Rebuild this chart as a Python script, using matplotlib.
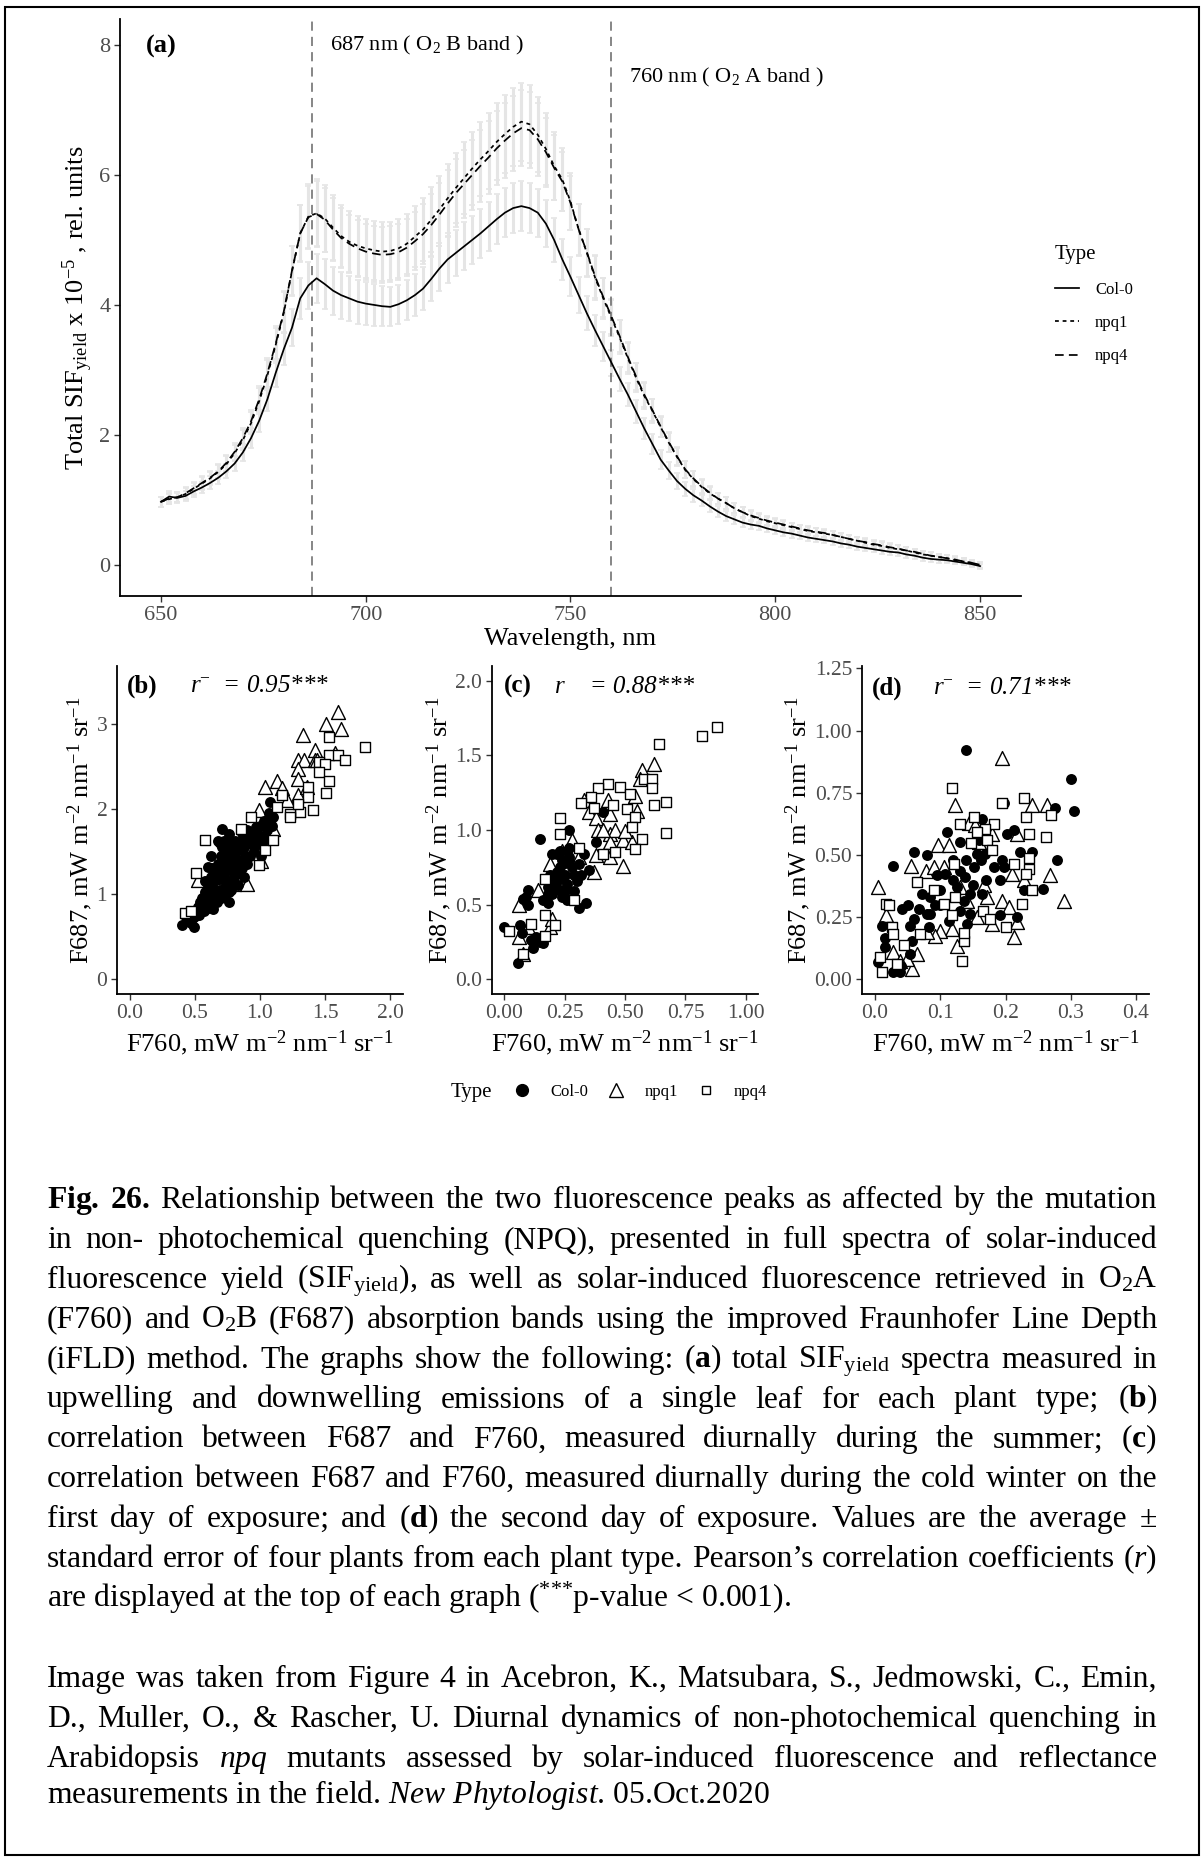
import numpy as np
import matplotlib
matplotlib.use("Agg")
import matplotlib.pyplot as plt
from matplotlib.lines import Line2D
from matplotlib.patches import Rectangle
from matplotlib.ticker import FormatStrFormatter

plt.rcParams['font.family'] = ['Liberation Serif', 'DejaVu Serif']
plt.rcParams['mathtext.fontset'] = 'custom'
plt.rcParams['mathtext.rm'] = 'Liberation Serif'
plt.rcParams['mathtext.it'] = 'Liberation Serif:italic'
plt.rcParams['mathtext.bf'] = 'Liberation Serif:bold'

# ---- (a) SIF yield spectra, 650-850 nm every 2 nm ----
wavelength = np.arange(650, 852, 2)

sif_col0 = [0.97, 1.05, 1.03, 1.06, 1.13, 1.19, 1.26, 1.34, 1.44, 1.56,
            1.73, 1.95, 2.22, 2.55, 2.95, 3.32, 3.65, 4.10, 4.30, 4.41,
            4.32, 4.22, 4.15, 4.10, 4.05, 4.02, 4.00, 3.98, 3.97, 4.01,
            4.07, 4.15, 4.25, 4.40, 4.56, 4.70, 4.80, 4.90, 5.00, 5.10,
            5.21, 5.32, 5.42, 5.49, 5.52, 5.49, 5.42, 5.25, 5.00, 4.70,
            4.43, 4.15, 3.87, 3.61, 3.36, 3.11, 2.86, 2.62, 2.36, 2.10,
            1.86, 1.62, 1.45, 1.29, 1.17, 1.07, 0.99, 0.90, 0.82, 0.75,
            0.70, 0.65, 0.62, 0.60, 0.56, 0.53, 0.50, 0.48, 0.45, 0.42,
            0.40, 0.38, 0.36, 0.33, 0.31, 0.28, 0.26, 0.24, 0.22, 0.20,
            0.19, 0.16, 0.14, 0.11, 0.09, 0.08, 0.07, 0.05, 0.03, 0.01, -0.02]

sif_npq1 = [0.97, 1.01, 1.04, 1.09, 1.17, 1.25, 1.33, 1.43, 1.55, 1.72,
            1.92, 2.18, 2.52, 2.92, 3.38, 3.88, 4.52, 5.10, 5.36, 5.41,
            5.33, 5.19, 5.06, 4.97, 4.91, 4.87, 4.84, 4.82, 4.83, 4.87,
            4.94, 5.05, 5.16, 5.31, 5.47, 5.64, 5.80, 5.95, 6.10, 6.24,
            6.37, 6.51, 6.63, 6.74, 6.82, 6.78, 6.62, 6.40, 6.14, 5.93,
            5.59, 5.16, 4.80, 4.42, 4.10, 3.80, 3.50, 3.18, 2.88, 2.60,
            2.37, 2.12, 1.88, 1.66, 1.46, 1.32, 1.20, 1.10, 1.02, 0.95,
            0.87, 0.81, 0.75, 0.71, 0.67, 0.64, 0.61, 0.58, 0.55, 0.52,
            0.50, 0.48, 0.46, 0.43, 0.40, 0.37, 0.34, 0.31, 0.29, 0.26,
            0.24, 0.22, 0.19, 0.16, 0.14, 0.12, 0.10, 0.07, 0.05, 0.03, 0.00]

sif_npq4 = [0.97, 1.02, 1.04, 1.10, 1.18, 1.26, 1.34, 1.44, 1.57, 1.74,
            1.95, 2.21, 2.55, 2.95, 3.40, 3.90, 4.53, 5.10, 5.35, 5.40,
            5.31, 5.16, 5.03, 4.94, 4.87, 4.82, 4.79, 4.77, 4.78, 4.81,
            4.88, 4.98, 5.09, 5.23, 5.39, 5.56, 5.72, 5.86, 6.00, 6.14,
            6.27, 6.41, 6.53, 6.64, 6.72, 6.69, 6.55, 6.35, 6.11, 5.90,
            5.57, 5.16, 4.81, 4.44, 4.12, 3.82, 3.52, 3.20, 2.90, 2.62,
            2.38, 2.13, 1.89, 1.67, 1.47, 1.33, 1.21, 1.11, 1.02, 0.95,
            0.87, 0.81, 0.76, 0.72, 0.68, 0.65, 0.62, 0.59, 0.56, 0.53,
            0.51, 0.49, 0.46, 0.43, 0.40, 0.37, 0.35, 0.32, 0.30, 0.27,
            0.25, 0.22, 0.20, 0.17, 0.14, 0.12, 0.10, 0.08, 0.05, 0.03, 0.00]

se_col0 = [0.08, 0.08, 0.08, 0.08, 0.09, 0.09, 0.10, 0.10, 0.11, 0.12,
           0.13, 0.15, 0.17, 0.19, 0.22, 0.25, 0.28, 0.32, 0.36, 0.38,
           0.38, 0.37, 0.36, 0.35, 0.34, 0.33, 0.32, 0.31, 0.30, 0.30,
           0.31, 0.32, 0.33, 0.34, 0.35, 0.36, 0.36, 0.37, 0.37, 0.38,
           0.38, 0.38, 0.38, 0.38, 0.38, 0.38, 0.37, 0.36, 0.34, 0.32,
           0.30, 0.28, 0.26, 0.24, 0.22, 0.20, 0.19, 0.18, 0.17, 0.16,
           0.15, 0.14, 0.13, 0.12, 0.11, 0.10, 0.09, 0.09, 0.08, 0.08,
           0.07, 0.07, 0.07, 0.06, 0.06, 0.06, 0.06, 0.06, 0.05, 0.05,
           0.05, 0.05, 0.05, 0.05, 0.05, 0.05, 0.05, 0.05, 0.05, 0.05,
           0.05, 0.05, 0.05, 0.05, 0.05, 0.05, 0.04, 0.04, 0.04, 0.04, 0.04]

se_npq1 = [0.08, 0.08, 0.08, 0.09, 0.09, 0.10, 0.10, 0.11, 0.12, 0.13,
           0.15, 0.17, 0.20, 0.23, 0.27, 0.32, 0.38, 0.44, 0.50, 0.52,
           0.51, 0.50, 0.48, 0.47, 0.46, 0.45, 0.45, 0.45, 0.45, 0.45,
           0.46, 0.47, 0.48, 0.50, 0.51, 0.53, 0.54, 0.55, 0.56, 0.57,
           0.58, 0.59, 0.60, 0.60, 0.60, 0.60, 0.58, 0.55, 0.52, 0.48,
           0.44, 0.40, 0.37, 0.34, 0.31, 0.28, 0.26, 0.24, 0.22, 0.20,
           0.18, 0.16, 0.15, 0.14, 0.13, 0.12, 0.11, 0.10, 0.09, 0.09,
           0.08, 0.08, 0.08, 0.07, 0.07, 0.07, 0.07, 0.06, 0.06, 0.06,
           0.06, 0.06, 0.06, 0.06, 0.06, 0.06, 0.06, 0.06, 0.06, 0.06,
           0.06, 0.06, 0.05, 0.05, 0.05, 0.05, 0.05, 0.05, 0.05, 0.05, 0.05]

se_npq4 = [0.08, 0.08, 0.08, 0.09, 0.09, 0.10, 0.10, 0.11, 0.12, 0.13,
           0.15, 0.17, 0.20, 0.23, 0.27, 0.31, 0.37, 0.43, 0.48, 0.50,
           0.49, 0.48, 0.46, 0.45, 0.44, 0.43, 0.43, 0.43, 0.43, 0.43,
           0.44, 0.45, 0.46, 0.48, 0.49, 0.51, 0.52, 0.53, 0.54, 0.55,
           0.56, 0.57, 0.58, 0.58, 0.58, 0.58, 0.56, 0.53, 0.50, 0.46,
           0.42, 0.39, 0.36, 0.33, 0.30, 0.27, 0.25, 0.23, 0.21, 0.19,
           0.17, 0.16, 0.15, 0.14, 0.13, 0.12, 0.11, 0.10, 0.09, 0.09,
           0.08, 0.08, 0.08, 0.07, 0.07, 0.07, 0.07, 0.06, 0.06, 0.06,
           0.06, 0.06, 0.06, 0.06, 0.06, 0.06, 0.06, 0.06, 0.06, 0.06,
           0.06, 0.06, 0.05, 0.05, 0.05, 0.05, 0.05, 0.05, 0.05, 0.05, 0.05]

# ---- (b) summer: F760 vs F687 ----
b_col0_x = [0.40, 0.49, 0.43, 0.49, 0.52, 0.55, 0.60, 0.64, 0.67, 0.76, 0.55, 0.58, 0.60, 0.62,
            0.60, 0.65, 0.66, 0.68, 0.70, 0.71, 0.72, 0.71, 0.75, 0.74, 0.76, 0.78, 0.80, 0.82,
            0.80, 0.84, 0.88, 0.85, 0.90, 0.92, 0.94, 0.96, 0.98, 1.00, 1.02, 1.05, 1.06, 1.08,
            1.10, 1.01, 0.88, 0.70, 0.65, 0.72, 0.78, 0.83, 0.86, 0.90, 0.62, 0.58, 0.68,
            0.45, 0.47, 0.50, 0.53, 0.54, 0.57, 0.59, 0.61, 0.63, 0.64, 0.63, 0.66, 0.67, 0.69,
            0.70, 0.69, 0.72, 0.73, 0.74, 0.76, 0.77, 0.78, 0.79, 0.81, 0.82, 0.83, 0.85, 0.86,
            0.87, 0.89, 0.91, 0.93, 0.95, 0.97, 0.99, 1.03, 1.04, 1.07, 1.09, 0.58, 0.61, 0.74,
            0.76, 0.70]
b_col0_y = [0.64, 0.61, 0.73, 0.73, 0.85, 0.84, 0.84, 0.82, 0.90, 0.90, 0.95, 1.02, 1.10, 1.20,
            1.31, 1.25, 1.16, 1.35, 1.45, 1.55, 1.62, 1.76, 1.63, 1.40, 1.28, 1.15, 1.20, 1.30,
            1.45, 1.52, 1.55, 1.40, 1.35, 1.45, 1.58, 1.65, 1.71, 1.80, 1.62, 1.75, 1.85, 2.08,
            1.90, 1.45, 1.20, 1.05, 0.95, 1.00, 1.05, 1.10, 1.72, 1.75, 1.45, 0.92, 1.62,
            0.70, 0.66, 0.78, 0.75, 0.90, 0.80, 0.97, 0.88, 1.05, 1.15, 1.30, 1.05, 1.25, 1.18,
            1.30, 1.60, 1.20, 1.35, 1.50, 1.70, 1.40, 1.55, 1.30, 1.62, 1.40, 1.25, 1.55, 1.30,
            1.65, 1.45, 1.60, 1.70, 1.50, 1.78, 1.58, 1.85, 1.68, 1.95, 1.80, 1.15, 1.00, 1.10,
            1.02, 0.95]
b_npq1_x = [1.60, 1.51, 1.62, 1.33, 1.42, 1.58, 1.29, 1.34, 1.42, 1.29, 1.29, 1.04, 1.13, 1.17,
            1.29, 0.99, 1.06, 1.10, 1.01, 0.88, 0.90, 0.80, 0.67, 0.52, 1.21, 1.36, 1.44]
b_npq1_y = [3.14, 3.00, 2.93, 2.87, 2.69, 2.65, 2.57, 2.57, 2.57, 2.47, 2.35, 2.25, 2.33, 2.24,
            2.16, 1.98, 1.92, 1.76, 1.39, 1.14, 1.12, 1.12, 1.08, 1.16, 2.10, 2.25, 2.57]
b_npq4_x = [1.81, 1.53, 1.53, 1.60, 1.65, 1.45, 1.50, 1.45, 1.53, 1.51, 1.41, 1.31, 1.23, 1.23,
            1.17, 1.13, 1.37, 1.37, 0.93, 0.85, 0.58, 0.99, 0.51, 0.42, 0.47, 1.04, 1.10, 1.29]
b_npq4_y = [2.72, 2.84, 2.63, 2.63, 2.57, 2.55, 2.53, 2.43, 2.33, 2.18, 1.98, 1.96, 1.94, 1.90,
            2.16, 2.02, 2.25, 2.14, 1.90, 1.76, 1.63, 1.34, 1.25, 0.78, 0.80, 1.51, 1.63, 2.06]

# ---- (c) winter, day 1 ----
c_col0_x = [0.00, 0.056, 0.066, 0.073, 0.08, 0.10, 0.10, 0.12, 0.15, 0.11, 0.15, 0.18, 0.18,
            0.20, 0.22, 0.23, 0.22, 0.25, 0.26, 0.27, 0.29, 0.31, 0.31, 0.34, 0.35, 0.33, 0.38,
            0.41, 0.24, 0.27, 0.29, 0.20, 0.24, 0.19, 0.27, 0.23,
            0.21, 0.22, 0.24, 0.25, 0.26, 0.28, 0.23, 0.20, 0.27, 0.30, 0.32, 0.18, 0.16, 0.26,
            0.25, 0.09, 0.13, 0.16]
c_col0_y = [0.35, 0.105, 0.36, 0.31, 0.54, 0.50, 0.60, 0.21, 0.25, 0.26, 0.94, 0.57, 0.51,
            0.84, 0.84, 0.75, 0.66, 0.59, 0.53, 1.00, 0.70, 0.77, 0.48, 0.51, 0.73, 0.84, 0.92,
            1.12, 0.68, 0.79, 0.59, 0.57, 0.55, 0.70, 0.88, 0.86,
            0.62, 0.72, 0.80, 0.70, 0.64, 0.75, 0.60, 0.66, 0.82, 0.66, 0.70, 0.62, 0.53, 0.86,
            0.78, 0.55, 0.28, 0.24]
c_npq1_x = [0.063, 0.063, 0.08, 0.10, 0.14, 0.19, 0.20, 0.19, 0.28, 0.24, 0.33, 0.35, 0.38,
            0.43, 0.44, 0.39, 0.44, 0.44, 0.46, 0.38, 0.44, 0.49, 0.49, 0.53, 0.55, 0.57, 0.62,
            0.56, 0.54, 0.37, 0.31, 0.50, 0.41]
c_npq1_y = [0.50, 0.28, 0.17, 0.35, 0.60, 0.35, 0.40, 0.77, 0.93, 0.86, 1.20, 1.12, 1.08,
            1.20, 1.11, 1.00, 0.97, 0.92, 1.00, 0.83, 0.82, 0.76, 0.93, 0.92, 1.13, 1.40, 1.44,
            1.34, 1.23, 0.72, 0.82, 0.99, 1.00]
c_npq4_x = [0.88, 0.82, 0.64, 0.58, 0.61, 0.61, 0.62, 0.67, 0.67, 0.43, 0.39, 0.48, 0.52,
            0.36, 0.32, 0.51, 0.54, 0.53, 0.57, 0.54, 0.46, 0.41, 0.23, 0.23, 0.31, 0.17, 0.29,
            0.17, 0.21, 0.08, 0.02, 0.11, 0.17, 0.37, 0.45]
c_npq4_y = [1.69, 1.63, 1.58, 1.34, 1.34, 1.28, 1.17, 1.19, 0.98, 1.31, 1.28, 1.29, 1.24,
            1.22, 1.18, 1.14, 1.09, 1.02, 0.94, 0.87, 0.85, 0.84, 1.08, 0.97, 0.88, 0.67, 0.53,
            0.43, 0.36, 0.17, 0.32, 0.37, 0.29, 1.15, 1.17]

# ---- (d) winter, day 2 ----
d_col0_x = [0.140, 0.300, 0.305, 0.276, 0.198, 0.110, 0.164, 0.202, 0.213, 0.028, 0.060, 0.079,
            0.131, 0.222, 0.241, 0.279, 0.195, 0.258, 0.228, 0.192, 0.218, 0.191, 0.004, 0.010,
            0.015, 0.015, 0.028, 0.038, 0.040, 0.054, 0.056, 0.053, 0.041, 0.051, 0.067, 0.079,
            0.082, 0.084, 0.100, 0.108, 0.113, 0.126, 0.131, 0.136, 0.138, 0.141, 0.146, 0.151,
            0.156, 0.162, 0.164, 0.169, 0.182, 0.197, 0.120, 0.092, 0.072, 0.131, 0.146, 0.095,
            0.120, 0.150, 0.170, 0.140, 0.100, 0.060, 0.085, 0.160]
d_col0_y = [0.920, 0.805, 0.676, 0.690, 0.710, 0.590, 0.646, 0.585, 0.600, 0.454, 0.510, 0.500,
            0.550, 0.510, 0.510, 0.480, 0.480, 0.363, 0.360, 0.400, 0.250, 0.256, 0.070, 0.215,
            0.165, 0.130, 0.027, 0.027, 0.054, 0.100, 0.155, 0.215, 0.283, 0.300, 0.283, 0.262,
            0.210, 0.330, 0.357, 0.424, 0.235, 0.370, 0.276, 0.316, 0.410, 0.222, 0.343, 0.450,
            0.505, 0.478, 0.343, 0.505, 0.450, 0.450, 0.478, 0.300, 0.343, 0.437, 0.262, 0.417,
            0.400, 0.380, 0.400, 0.480, 0.300, 0.240, 0.260, 0.560]
d_npq1_x = [0.194, 0.123, 0.241, 0.263, 0.004, 0.055, 0.078, 0.091, 0.097, 0.114, 0.144, 0.154,
            0.159, 0.179, 0.218, 0.268, 0.290, 0.210, 0.228, 0.195, 0.205, 0.218, 0.213, 0.179,
            0.156, 0.126, 0.118, 0.100, 0.092, 0.017, 0.028, 0.056, 0.064, 0.049, 0.105, 0.131,
            0.167, 0.172, 0.141, 0.079, 0.038]
d_npq1_y = [0.890, 0.700, 0.700, 0.700, 0.370, 0.454, 0.435, 0.450, 0.540, 0.540, 0.630, 0.620,
            0.550, 0.585, 0.585, 0.420, 0.316, 0.424, 0.397, 0.316, 0.290, 0.229, 0.168, 0.222,
            0.250, 0.135, 0.200, 0.195, 0.175, 0.256, 0.108, 0.040, 0.100, 0.080, 0.450, 0.370,
            0.377, 0.330, 0.316, 0.188, 0.074]
d_npq4_x = [0.118, 0.228, 0.195, 0.231, 0.269, 0.151, 0.131, 0.183, 0.169, 0.156, 0.236, 0.262,
            0.147, 0.172, 0.121, 0.179, 0.213, 0.236, 0.236, 0.231, 0.241, 0.226, 0.064, 0.017,
            0.022, 0.026, 0.028, 0.044, 0.007, 0.011, 0.033, 0.134, 0.137, 0.136, 0.166, 0.177,
            0.200, 0.069, 0.118, 0.105, 0.090, 0.123]
d_npq4_y = [0.770, 0.727, 0.707, 0.653, 0.660, 0.653, 0.623, 0.626, 0.606, 0.592, 0.585, 0.570,
            0.548, 0.558, 0.464, 0.518, 0.462, 0.489, 0.444, 0.424, 0.357, 0.303, 0.390, 0.303,
            0.300, 0.209, 0.182, 0.137, 0.087, 0.027, 0.060, 0.074, 0.155, 0.184, 0.276, 0.242,
            0.209, 0.182, 0.256, 0.303, 0.357, 0.330]

r_labels = ["r" + r"$^{-}$" + "  = 0.95***",
            "r    = 0.88***",
            "r" + r"$^{-}$" + "  = 0.71***"]

caption_p1 = [
    r"$\mathbf{Fig.}$ $\mathbf{26.}$ Relationship between the two fluorescence peaks as affected by the mutation",
    r"in non- photochemical quenching (NPQ), presented in full spectra of solar-induced",
    r"fluorescence yield (SIF$_{\mathrm{yield}}$), as well as solar-induced fluorescence retrieved in O$_2$A",
    r"(F760) and O$_2$B (F687) absorption bands using the improved Fraunhofer Line Depth",
    r"(iFLD) method. The graphs show the following: ($\mathbf{a}$) total SIF$_{\mathrm{yield}}$ spectra measured in",
    r"upwelling and downwelling emissions of a single leaf for each plant type; ($\mathbf{b}$)",
    r"correlation between F687 and F760, measured diurnally during the summer; ($\mathbf{c}$)",
    r"correlation between F687 and F760, measured diurnally during the cold winter on the",
    r"first day of exposure; and ($\mathbf{d}$) the second day of exposure. Values are the average ±",
    r"standard error of four plants from each plant type. Pearson’s correlation coefficients ($\mathit{r}$)",
    r"are displayed at the top of each graph ($^{{*}{*}{*}}$p-value < 0.001).",
]
caption_p2 = [
    r"Image was taken from Figure 4 in Acebron, K., Matsubara, S., Jedmowski, C., Emin,",
    r"D., Muller, O., & Rascher, U. Diurnal dynamics of non-photochemical quenching in",
    r"Arabidopsis $\mathit{npq}$ mutants assessed by solar-induced fluorescence and reflectance",
    r"measurements in the field. $\mathit{New}$ $\mathit{Phytologist}$. 05.Oct.2020",
]

W, H = 1203, 1861
fig = plt.figure(figsize=(W / 100, H / 100), dpi=100)


def fx(px):
    return px / W


def fy(py):
    return 1 - py / H


def style_axes(ax, labelsize):
    for s in ['top', 'right']:
        ax.spines[s].set_visible(False)
    for s in ['left', 'bottom']:
        ax.spines[s].set_linewidth(1.3)
    ax.tick_params(direction='out', length=4, width=1, color='#333333',
                   labelcolor='#4d4d4d', labelsize=labelsize, pad=3)


# ---------------- panel (a) ----------------
ax = fig.add_axes([fx(120), fy(596), fx(1021) - fx(120), fy(19) - fy(596)])
style_axes(ax, 16)
for y, e in [(sif_col0, se_col0), (sif_npq1, se_npq1), (sif_npq4, se_npq4)]:
    ax.errorbar(wavelength, y, yerr=e, fmt='none', ecolor='#e5e5e5',
                elinewidth=2.2, capsize=2.0, capthick=1.2, zorder=1)
ax.plot(wavelength, sif_col0, color='black', lw=1.25, label='Col-0', zorder=3)
ax.plot(wavelength, sif_npq1, color='black', lw=1.25, dashes=(2.2, 2.2), label='npq1', zorder=3)
ax.plot(wavelength, sif_npq4, color='black', lw=1.25, dashes=(5, 3), label='npq4', zorder=3)
for wl in (687, 760):
    ax.axvline(wl, color='#666666', lw=1.1, dashes=(6, 4), zorder=2)
ax.text(715, 8, r"687 nm ( O$_2$ B band )", fontsize=16, ha='center', va='center')
ax.text(788, 7.5, r"760 nm ( O$_2$ A band )", fontsize=16, ha='center', va='center')
ax.text(650, 7.97, "(a)", fontsize=19, fontweight='bold', ha='center', va='center')
ax.set_xlim(640, 860)
ax.set_ylim(-0.48, 8.4)
ax.set_xticks([650, 700, 750, 800, 850])
ax.set_yticks([0, 2, 4, 6, 8])
ax.set_xlabel("Wavelength, nm", fontsize=19, labelpad=2)
ax.set_ylabel(r"Total SIF$_{\mathrm{yield}}$ x 10$^{-5}$ , rel. units", fontsize=19, labelpad=3)
leg = ax.legend(title='Type', loc='upper left', bbox_to_anchor=(fx(1055), fy(245)),
                bbox_transform=fig.transFigure, frameon=False, fontsize=12,
                title_fontsize=15, handlelength=1.45, handletextpad=0.95,
                labelspacing=1.05, alignment='left', borderpad=0, borderaxespad=0)

# ---------------- panels (b)-(d) ----------------
panels = [
    dict(left=117, right=403, xlim=(-0.1, 2.1), ylim=(-0.175, 3.675),
         xt=[0, 0.5, 1.0, 1.5, 2.0], yt=[0, 1, 2, 3], xf='%.1f', yf='%d',
         pts=[(b_col0_x, b_col0_y), (b_npq1_x, b_npq1_y), (b_npq4_x, b_npq4_y)],
         tag='(b)', tagx=0.09, rx=1.0, ty=3.44),
    dict(left=492, right=758, xlim=(-0.05, 1.05), ylim=(-0.1, 2.1),
         xt=[0, 0.25, 0.5, 0.75, 1.0], yt=[0, 0.5, 1.0, 1.5, 2.0], xf='%.2f', yf='%.1f',
         pts=[(c_col0_x, c_col0_y), (c_npq1_x, c_npq1_y), (c_npq4_x, c_npq4_y)],
         tag='(c)', tagx=0.058, rx=0.50, ty=1.96),
    dict(left=862, right=1149, xlim=(-0.02, 0.42), ylim=(-0.06, 1.26),
         xt=[0, 0.1, 0.2, 0.3, 0.4], yt=[0, 0.25, 0.5, 0.75, 1.0, 1.25], xf='%.1f', yf='%.2f',
         pts=[(d_col0_x, d_col0_y), (d_npq1_x, d_npq1_y), (d_npq4_x, d_npq4_y)],
         tag='(d)', tagx=0.018, rx=0.196, ty=1.17),
]
flux_label = r"mW m$^{-2}$ nm$^{-1}$ sr$^{-1}$"
for p, rlab in zip(panels, r_labels):
    ax = fig.add_axes([fx(p['left']), fy(994), fx(p['right']) - fx(p['left']), fy(666) - fy(994)])
    style_axes(ax, 15.5)
    (cx, cy), (tx, ty), (sx, sy) = p['pts']
    ax.scatter(tx, ty, marker='^', s=100, facecolors='white', edgecolors='black',
               linewidths=1.0, zorder=2)
    ax.scatter(cx, cy, marker='o', s=62, color='black', linewidths=0, zorder=3)
    ax.scatter(sx, sy, marker='s', s=48, facecolors='white', edgecolors='black',
               linewidths=1.0, zorder=4)
    ax.set_xlim(*p['xlim'])
    ax.set_ylim(*p['ylim'])
    ax.set_xticks(p['xt'])
    ax.set_yticks(p['yt'])
    ax.xaxis.set_major_formatter(FormatStrFormatter(p['xf']))
    ax.yaxis.set_major_formatter(FormatStrFormatter(p['yf']))
    ax.text(p['tagx'], p['ty'], p['tag'], fontsize=18, fontweight='bold', ha='center', va='center')
    ax.text(p['rx'], p['ty'], rlab, fontsize=18, fontstyle='italic', ha='center', va='center')
    ax.set_xlabel("F760, " + flux_label, fontsize=19, labelpad=4)
    ax.set_ylabel("F687, " + flux_label, fontsize=19, labelpad=1)

# shared legend for the scatter panels
fig.text(fx(451), fy(1092), "Type", fontsize=15, ha='left', va='center')
handles = [Line2D([], [], ls='none', marker='o', ms=8.5, color='black'),
           Line2D([], [], ls='none', marker='^', ms=9.5, mfc='white', mec='black', mew=1.0),
           Line2D([], [], ls='none', marker='s', ms=6, mfc='white', mec='black', mew=1.0)]
fig.legend(handles, ['Col-0', 'npq1', 'npq4'], loc='center left',
           bbox_to_anchor=(fx(514), fy(1092)), ncol=3, frameon=False, fontsize=12,
           handlelength=1.0, handletextpad=1.18, columnspacing=1.18,
           borderpad=0, borderaxespad=0)

# ---------------- caption (justified) ----------------
cap_left, cap_right = 47, 1157
cap_size = 22.8
renderer = fig.canvas.get_renderer()


def caption_line(text, base_y, justify):
    if not justify:
        fig.text(fx(cap_left), fy(base_y), text, fontsize=cap_size, va='baseline', ha='left')
        return
    words = text.split(' ')
    objs = [fig.text(0, fy(base_y), w, fontsize=cap_size, va='baseline', ha='left') for w in words]
    widths = [o.get_window_extent(renderer).width for o in objs]
    gap = (cap_right - cap_left - sum(widths)) / (len(words) - 1)
    x = cap_left
    for o, w in zip(objs, widths):
        o.set_x(fx(x))
        x += w + gap


line_step = 39.9
first_base = 1208
for i, line in enumerate(caption_p1):
    caption_line(line, first_base + i * line_step, i < len(caption_p1) - 1)
for i, line in enumerate(caption_p2):
    caption_line(line, first_base + (12 + i) * line_step - (3 if i == 3 else 0),
                 i < len(caption_p2) - 1)

# outer frame
fig.patches.append(Rectangle((fx(5), fy(1855)), fx(1199) - fx(5), fy(7) - fy(1855),
                             transform=fig.transFigure, fill=False, edgecolor='black',
                             linewidth=1.5))

fig.savefig('out.png', dpi=100)
